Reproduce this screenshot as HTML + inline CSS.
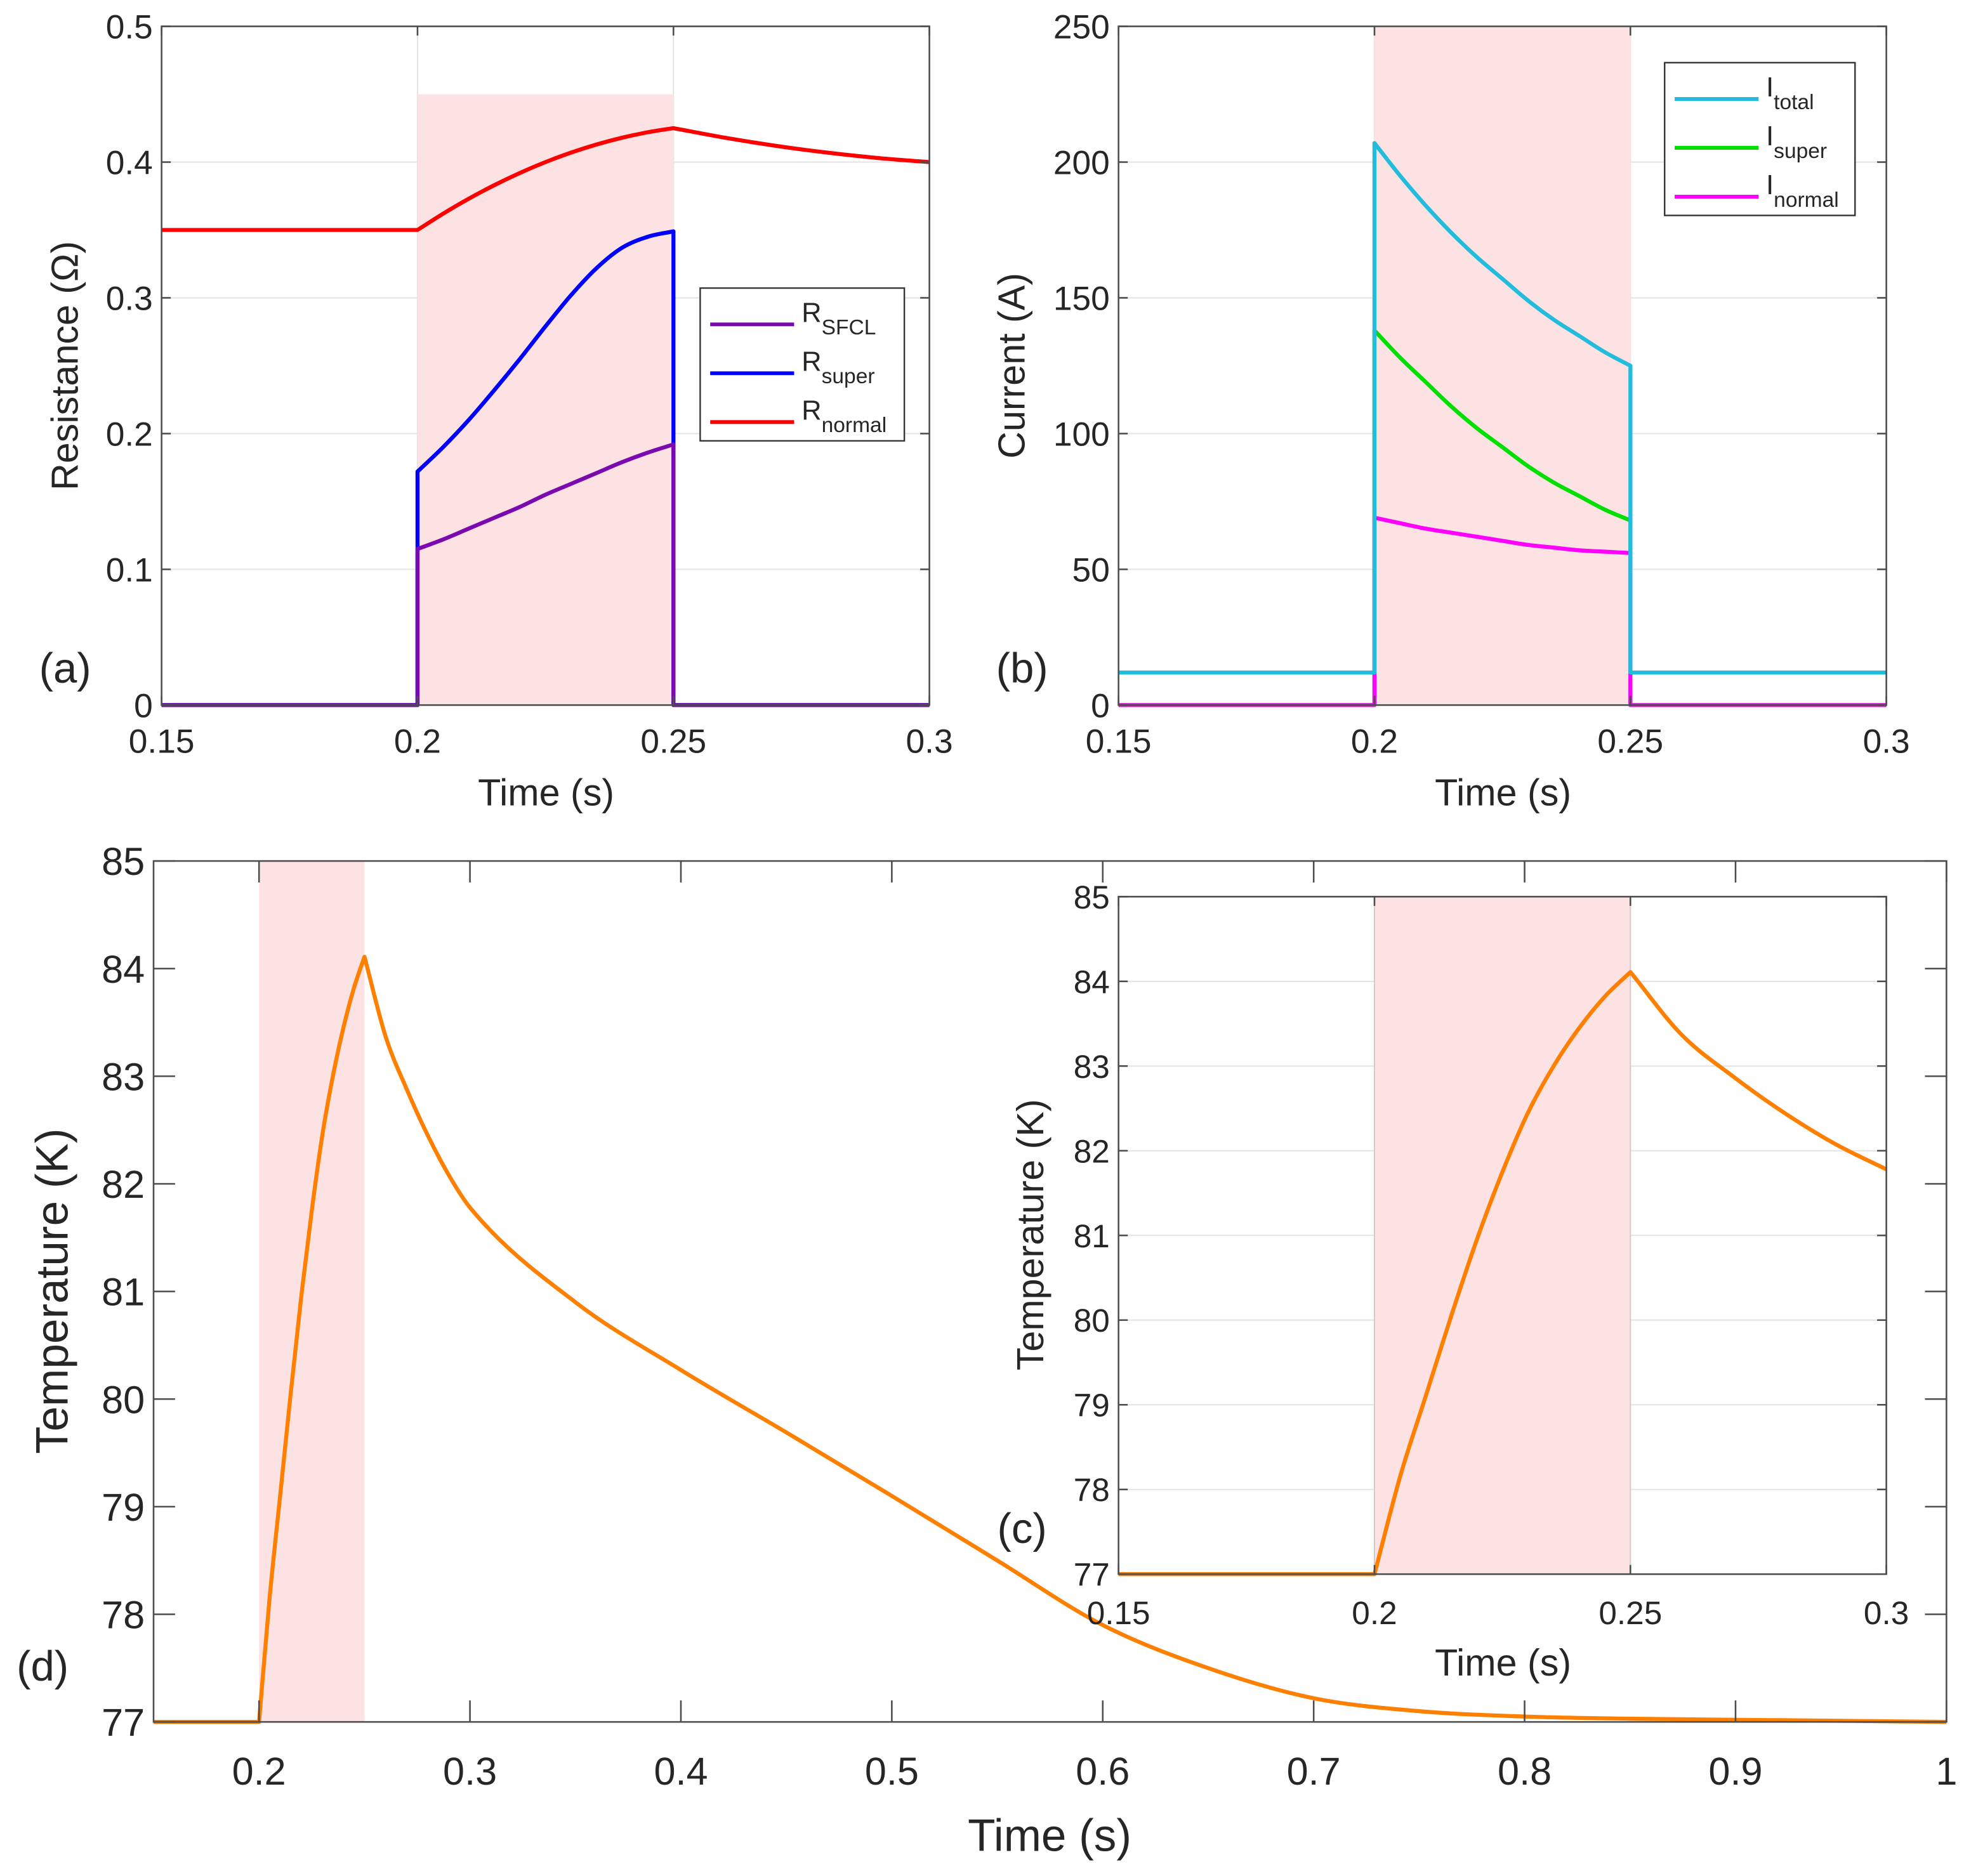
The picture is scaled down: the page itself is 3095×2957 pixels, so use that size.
<!DOCTYPE html>
<html><head><meta charset="utf-8"><style>
html,body{margin:0;padding:0;background:#fff}
svg{display:block}
text{font-family:"Liberation Sans",Arial,sans-serif;fill:#262626}
</style></head><body>
<svg id="fig" xmlns="http://www.w3.org/2000/svg" width="3095" height="2957" viewBox="0 0 1568 1498"></svg>
<script>
// ---- data ----
const tR = [0.15,0.2,0.205,0.21,0.215,0.22,0.225,0.23,0.235,0.24,0.245,0.25,0.26,0.27,0.28,0.29,0.3];
const rNormal = [0.35,0.35,0.362,0.373,0.383,0.392,0.400,0.407,0.413,0.418,0.422,0.425,0.418,0.412,0.407,0.403,0.400];
const tIn = [0.2,0.205,0.21,0.215,0.22,0.225,0.23,0.235,0.24,0.245,0.25];
const rSuper = [0.172,0.19,0.21,0.232,0.255,0.279,0.302,0.322,0.337,0.345,0.349];
const rSFCL = [0.115,0.122,0.13,0.138,0.146,0.155,0.163,0.171,0.179,0.186,0.192];
const iTotal = [207,195,184,174,165,157,149,142,136,130,125];
const iSuper = [138,128,119,110,102,95,88,82,77,72,68];
const iNormal = [69,67,65,63.5,62,60.5,59,58,57,56.5,56];
const iTotalBase = 12;
const tT = [0.15,0.2,0.205,0.21,0.215,0.22,0.225,0.23,0.235,0.24,0.245,0.25,0.26,0.27,0.28,0.29,0.3,0.35,0.4,0.45,0.5,0.55,0.6,0.65,0.7,0.75,0.8,0.85,0.9,0.95,1.0];
const temp = [77,77,78.15,79.1,80.05,80.95,81.75,82.45,83.0,83.45,83.82,84.11,83.37,82.88,82.45,82.08,81.78,80.9,80.27,79.69,79.1,78.5,77.9,77.5,77.22,77.1,77.05,77.03,77.02,77.01,77.0];
const breaks = [0.2,0.25];
const ticksR = [0,0.1,0.2,0.3,0.4,0.5];
const ticksI = [0,50,100,150,200,250];
const ticksT = [77,78,79,80,81,82,83,84,85];
const ticksX1 = [0.15,0.2,0.25,0.3];
const ticksXd = [0.2,0.3,0.4,0.5,0.6,0.7,0.8,0.9,1];

const NS="http://www.w3.org/2000/svg";
const svg=document.getElementById('fig');
function mk(tag,attrs,parent){const e=document.createElementNS(NS,tag);for(const k in attrs)e.setAttribute(k,attrs[k]);(parent||svg).appendChild(e);return e;}
function axis(x0,x1,y0,y1,xmin,xmax,ymin,ymax){return{x:v=>x0+(v-xmin)/(xmax-xmin)*(x1-x0),y:v=>y1-(v-ymin)/(ymax-ymin)*(y1-y0),x0,x1,y0,y1};}
function monoPath(P){
  const n=P.length;
  const d=[],m=new Array(n);
  for(let i=0;i<n-1;i++)d.push((P[i+1][1]-P[i][1])/(P[i+1][0]-P[i][0]));
  m[0]=d[0];m[n-1]=d[n-2];
  for(let i=1;i<n-1;i++){m[i]=(d[i-1]*d[i]<=0)?0:(d[i-1]+d[i])/2;}
  for(let i=0;i<n-1;i++){if(d[i]===0){m[i]=0;m[i+1]=0;continue;}const a=m[i]/d[i],b=m[i+1]/d[i],s=a*a+b*b;if(s>9){const t=3/Math.sqrt(s);m[i]=t*a*d[i];m[i+1]=t*b*d[i];}}
  let s='';
  for(let i=0;i<n-1;i++){const h=P[i+1][0]-P[i][0];
    s+=' C'+(P[i][0]+h/3).toFixed(2)+','+(P[i][1]+m[i]*h/3).toFixed(2)+' '+(P[i+1][0]-h/3).toFixed(2)+','+(P[i+1][1]-m[i+1]*h/3).toFixed(2)+' '+P[i+1][0].toFixed(2)+','+P[i+1][1].toFixed(2);}
  return s;
}
function line(ax,xs,ys,color,name,g){
  const P=xs.map((x,i)=>[ax.x(x),ax.y(ys[i]),x]);
  const runs=[];let cur=[P[0]];
  for(let i=1;i<P.length;i++){
    if(P[i][0]-cur[cur.length-1][0]<0.01){runs.push(cur);cur=[P[i]];}
    else{cur.push(P[i]);if(breaks.some(b=>Math.abs(b-P[i][2])<1e-9)&&i<P.length-1){runs.push(cur);cur=[P[i]];}}
  }
  runs.push(cur);
  let dstr='M'+P[0][0].toFixed(2)+','+P[0][1].toFixed(2);
  runs.forEach((r,ri)=>{if(ri>0)dstr+=' L'+r[0][0].toFixed(2)+','+r[0][1].toFixed(2);
    if(r.length===2)dstr+=' L'+r[1][0].toFixed(2)+','+r[1][1].toFixed(2);else if(r.length>2)dstr+=monoPath(r);});
  const p=mk('path',{d:dstr,fill:'none',stroke:color,'stroke-width':3.2,'stroke-linejoin':'round'},g);
  
  
  return p;}
function label(x,y,s,size,anchor,name,rot){const t=mk('text',{x:x,y:y,'font-size':size,'text-anchor':anchor||'middle'});t.textContent=s;if(rot)t.setAttribute('transform','rotate(-90 '+x+' '+y+')');


return t;}
function frame(ax,xt,yt,grid,gridX,name){
  const g=mk('g',{});
  
  
  if(grid){yt.forEach(v=>{const y=ax.y(v);mk('line',{x1:ax.x0,x2:ax.x1,y1:y,y2:y,stroke:'#e3e3e3','stroke-width':1},g);});}
  if(gridX){xt.forEach(v=>{const x=ax.x(v);mk('line',{x1:x,x2:x,y1:ax.y0,y2:ax.y1,stroke:'#e3e3e3','stroke-width':1},g);});}
  return g;}
function borders(ax,xt,yt,fs,xdy,name){
  const g=mk('g',{});
  
  
  mk('rect',{x:ax.x0,y:ax.y0,width:ax.x1-ax.x0,height:ax.y1-ax.y0,fill:'none',stroke:'#4d4d4d','stroke-width':1.3},g);
  const tl=(ax.x1-ax.x0)*0.012;
  xt.forEach(v=>{const x=ax.x(v);mk('line',{x1:x,x2:x,y1:ax.y1,y2:ax.y1-tl,stroke:'#4d4d4d','stroke-width':1.3},g);mk('line',{x1:x,x2:x,y1:ax.y0,y2:ax.y0+tl,stroke:'#4d4d4d','stroke-width':1.3},g);
    label(x,ax.y1+xdy,String(v),fs,'middle','x-tick-label');});
  yt.forEach(v=>{const y=ax.y(v);mk('line',{x1:ax.x0,x2:ax.x0+tl,y1:y,y2:y,stroke:'#4d4d4d','stroke-width':1.3},g);mk('line',{x1:ax.x1,x2:ax.x1-tl,y1:y,y2:y,stroke:'#4d4d4d','stroke-width':1.3},g);
    label(ax.x0-7,y+fs*0.36,String(v),fs,'end','y-tick-label');});
}
const shade='#fde2e4';

// ---- panel (a) ----
const A=axis(129,742,21,563,0.15,0.3,0,0.5);
frame(A,ticksX1,ticksR,true,true,'panel-a-grid');
let s=mk('rect',{x:A.x(0.2),y:A.y(0.45),width:A.x(0.25)-A.x(0.2),height:A.y(0)-A.y(0.45),fill:shade});


line(A,tR,rNormal,'#ff0000','r-normal-line');
line(A,[0.15,0.2].concat(tIn,[0.25,0.3]),[0,0].concat(rSuper,[0,0]),'#0000ff','r-super-line');
line(A,[0.15,0.2].concat(tIn,[0.25,0.3]),[0,0].concat(rSFCL,[0,0]),'#7a0ab0','r-sfcl-line');
borders(A,ticksX1,ticksR,27,38,'panel-a-axes');
label(436,643,'Time (s)',30,'middle','x-axis-title-a');
label(62,292,'Resistance (Ω)',30,'middle','y-axis-title-a',true);
label(52,545,'(a)',34,'middle','panel-label-a');
let lg=mk('g',{});


mk('rect',{x:559,y:230,width:163,height:122,fill:'#fff',stroke:'#333','stroke-width':1.2},lg);
[['#7a0ab0','SFCL',268],['#0000ff','super',307],['#ff0000','normal',346]].forEach(([c,sub,y])=>{
  mk('line',{x1:567,x2:634,y1:y-9,y2:y-9,stroke:c,'stroke-width':3},lg);
  const t=mk('text',{x:640,y:y-11,'font-size':22},lg);t.innerHTML='R<tspan dy="10" font-size="17">'+sub+'</tspan>';
  
  
});

// ---- panel (b) ----
const B=axis(893,1506,21,563,0.15,0.3,0,250);
frame(B,ticksX1,ticksI,true,true,'panel-b-grid');
s=mk('rect',{x:B.x(0.2),y:B.y(250),width:B.x(0.25)-B.x(0.2),height:B.y(0)-B.y(250),fill:shade});


const tb=[0.15,0.2].concat(tIn,[0.25,0.3]);
line(B,tb,[0,0].concat(iSuper,[0,0]),'#00e000','i-super-line');
line(B,tb,[0,0].concat(iNormal,[0,0]),'#ff00ff','i-normal-line');
line(B,tb,[iTotalBase,iTotalBase].concat(iTotal,[iTotalBase,iTotalBase]),'#22bcdc','i-total-line');
borders(B,ticksX1,ticksI,27,38,'panel-b-axes');
label(1200,643,'Time (s)',30,'middle','x-axis-title-b');
label(818,292,'Current (A)',30,'middle','y-axis-title-b',true);
label(816,545,'(b)',34,'middle','panel-label-b');
lg=mk('g',{});


mk('rect',{x:1329,y:50,width:152,height:122,fill:'#fff',stroke:'#333','stroke-width':1.2},lg);
[['#22bcdc','total',88],['#00e000','super',127],['#ff00ff','normal',166]].forEach(([c,sub,y])=>{
  mk('line',{x1:1337,x2:1404,y1:y-9,y2:y-9,stroke:c,'stroke-width':3},lg);
  const t=mk('text',{x:1410,y:y-11,'font-size':22},lg);t.innerHTML='I<tspan dy="10" font-size="17">'+sub+'</tspan>';
  
  
});

// ---- panel (d) ----
const D=axis(122.6,1554,687.5,1375,0.15,1.0,77,85);
s=mk('rect',{x:D.x(0.2),y:D.y(85),width:D.x(0.25)-D.x(0.2),height:D.y(77)-D.y(85),fill:shade});


line(D,tT,temp,'#ff7f00','temperature-line-d');
borders(D,ticksXd,ticksT,31,50,'panel-d-axes');
label(838,1478,'Time (s)',36,'middle','x-axis-title-d');
label(54,1031,'Temperature (K)',36,'middle','y-axis-title-d',true);
label(34,1342,'(d)',34,'middle','panel-label-d');

// ---- panel (c) inset ----
const C=axis(893,1506,716,1257,0.15,0.3,77,85);
mk('rect',{x:C.x0,y:C.y0,width:C.x1-C.x0,height:C.y1-C.y0,fill:'#fff'});
frame(C,ticksX1,ticksT,true,false,'panel-c-grid');
s=mk('rect',{x:C.x(0.2),y:C.y(85),width:C.x(0.25)-C.x(0.2),height:C.y(77)-C.y(85),fill:shade,stroke:'#d8c8ca','stroke-width':1});


const ci=tT.findIndex(v=>v>0.3);
line(C,tT.slice(0,ci),temp.slice(0,ci),'#ff7f00','temperature-line-c');
borders(C,ticksX1,ticksT,26,40,'panel-c-axes');
label(1200,1338,'Time (s)',30,'middle','x-axis-title-c');
label(833,986,'Temperature (K)',30,'middle','y-axis-title-c',true);
label(816,1232,'(c)',34,'middle','panel-label-c');
</script>
</body></html>
